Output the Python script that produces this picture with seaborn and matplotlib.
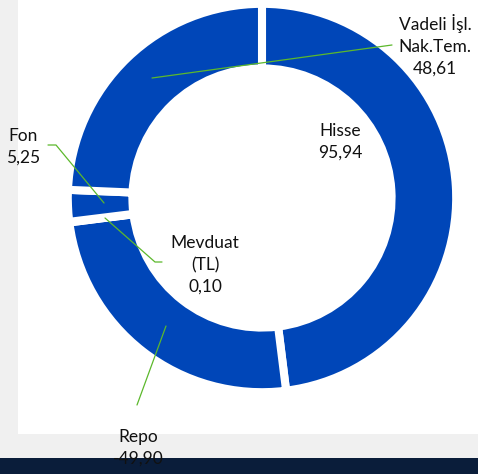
import matplotlib
matplotlib.use("Agg")
import matplotlib.pyplot as plt
import seaborn as sns
from matplotlib.patches import Rectangle

# portfolio split (value labels as shown)
categories = ["Hisse", "Repo", "Mevduat\n(TL)", "Fon", "Vadeli İşl.\nNak.Tem."]
values = [95.94, -49.90, 0.10, 5.25, 48.61]
value_labels = ["95,94", "-49,90", "0,10", "5,25", "48,61"]

sns.set_theme(style="white")
plt.rcParams['font.family'] = ['Lato', 'DejaVu Sans']

W, H = 478, 474
fig = plt.figure(figsize=(W / 100, H / 100), dpi=100)
fig.patch.set_facecolor("#f0f0f0")

# white panel + dark band at the bottom
fig.add_artist(Rectangle((18 / W, (H - 434) / H), (W - 18) / W, 434 / H,
                         transform=fig.transFigure, facecolor="white", edgecolor="none", zorder=0))
fig.add_artist(Rectangle((0, 0), 1, 16 / H, transform=fig.transFigure,
                         facecolor="#0a1d3a", edgecolor="none", zorder=0))

# donut centre (262,198) px, axes scale 190 px per unit
cx, cy, r = 262, 198, 190
ax = fig.add_axes([(cx - r) / W, (H - cy - r) / H, 2 * r / W, 2 * r / H])
ax.set_facecolor("none")
blue = sns.color_palette(["#0046b8"])[0]

ax.pie([abs(v) for v in values], startangle=90, counterclock=False,
       colors=[blue] * len(values), radius=1.022,
       wedgeprops=dict(width=0.34, edgecolor="white", linewidth=5.8))
ax.set_xlim(-1, 1)
ax.set_ylim(-1, 1)
ax.set_aspect("equal")
ax.axis("off")


def d(px, py):
    return (px - cx) / r, (cy - py) / r


green = "#5cb82c"
leaders = [
    [(152, 78), (392, 45)],
    [(48, 145), (56, 145), (104, 203)],
    [(105, 218), (155, 262), (162, 262)],
    [(166, 326), (137, 405)],
]
for pts in leaders:
    xs, ys = zip(*[d(*p) for p in pts])
    ax.plot(xs, ys, color=green, lw=0.9, clip_on=False, zorder=3)

label_pos = [(340, 142), (138, 448), (205, 265), (23, 147), (435, 45)]
for name, val, (px, py) in zip(categories, value_labels, label_pos):
    x, y = d(px, py)
    ax.text(x, y, f"{name}\n{val}", ha="center", va="center", fontsize=12.5,
            linespacing=1.45, color="#111111", clip_on=False, zorder=5)

fig.savefig("out.png", dpi=100, facecolor=fig.get_facecolor())
